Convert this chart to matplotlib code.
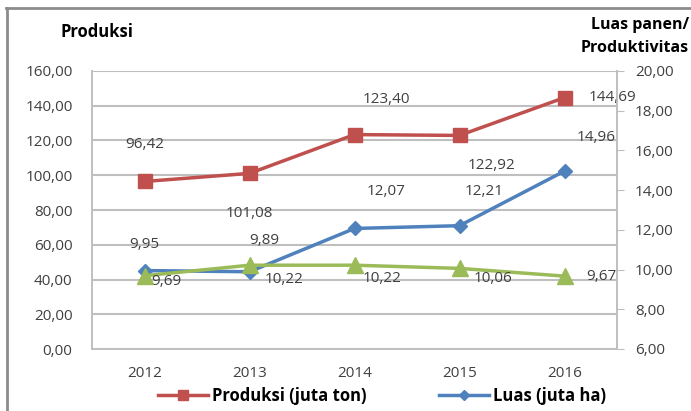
import matplotlib.pyplot as plt
from matplotlib.lines import Line2D

plt.rcParams['font.family'] = ['Open Sans', 'DejaVu Sans']

years = ['2012', '2013', '2014', '2015', '2016']
produksi = [96.42, 101.08, 123.40, 122.92, 144.69]
luas = [9.95, 9.89, 12.07, 12.21, 14.96]
produktivitas = [9.69, 10.22, 10.22, 10.06, 9.67]

# label offsets in pixels (dx, dy)
off_prod = [(0, 37), (0, -40), (32, 35), (32, -30), (48, 0)]
off_luas = [(0, 26), (15, 31), (32, 37), (25, 34), (32, 34)]
off_pv = [(22, -6), (35, -14), (28, -13), (34, -10), (37, 0)]

red = '#C0504D'
blue = '#4F81BD'
green = '#9BBB59'
grid = '#BFBFBF'
txt = '#404040'


def fmt(v):
    return f'{v:.2f}'.replace('.', ',')


fig = plt.figure(figsize=(6.91, 4.11), dpi=100)
# outer chart frame (top and left edges visible)
fig.add_artist(Line2D([6 / 691, 1.0], [1 - 8 / 411, 1 - 8 / 411],
                      transform=fig.transFigure, color='#8C8C8C', lw=2))
fig.add_artist(Line2D([7 / 691, 7 / 691], [0, 1 - 8 / 411],
                      transform=fig.transFigure, color='#8C8C8C', lw=2))

ax = fig.add_axes([92 / 691, 1 - 349 / 411, 525 / 691, 278 / 411])
ax2 = ax.twinx()

x = list(range(len(years)))
ax.plot(x, produksi, color=red, lw=2.5, marker='s', ms=10, zorder=3,
        label='Produksi (juta ton)')
l2, = ax2.plot(x, luas, color=blue, lw=2.5, marker='D', ms=7, zorder=3,
               label='Luas (juta ha)')
ax2.plot(x, produktivitas, color=green, lw=2.5, marker='^', ms=11, zorder=3)

ax.set_xlim(-0.5, 4.5)
ax.set_ylim(0, 160)
ax.set_yticks(range(0, 161, 20))
ax.set_yticklabels([fmt(v) for v in range(0, 161, 20)])
ax2.set_ylim(6, 20)
ax2.set_yticks(range(6, 21, 2))
ax2.set_yticklabels([fmt(v) for v in range(6, 21, 2)])
ax.set_xticks(x)
ax.set_xticklabels(years)

ax.grid(axis='y', color=grid, lw=1.5)
ax.set_axisbelow(True)
for a in (ax, ax2):
    for s in a.spines.values():
        s.set_color(grid)
        s.set_linewidth(1.2)
    a.spines['top'].set_visible(False)
ax.tick_params(axis='y', length=0, pad=14, labelsize=11, labelcolor=txt)
ax.tick_params(axis='x', length=0, pad=12, labelsize=11, labelcolor=txt)
ax2.tick_params(axis='y', length=5, color=grid, pad=8, labelsize=11, labelcolor=txt)

for i in x:
    ax.annotate(fmt(produksi[i]), (i, produksi[i]), xytext=off_prod[i],
                textcoords='offset pixels', ha='center', va='center',
                fontsize=11, color=txt)
    ax2.annotate(fmt(luas[i]), (i, luas[i]), xytext=off_luas[i],
                 textcoords='offset pixels', ha='center', va='center',
                 fontsize=11, color=txt)
    ax2.annotate(fmt(produktivitas[i]), (i, produktivitas[i]), xytext=off_pv[i],
                 textcoords='offset pixels', ha='center', va='center',
                 fontsize=11, color=txt)

fig.text(60 / 691, 1 - 32 / 411, 'Produksi', fontsize=12, fontweight='bold',
         ha='left', va='center')
fig.text(0.997, 1 - 25 / 411, 'Luas panen/', fontsize=11.5, fontweight='bold',
         ha='right', va='center')
fig.text(0.997, 1 - 48 / 411, 'Produktivitas', fontsize=11.5, fontweight='bold',
         ha='right', va='center')

h1, lb1 = ax.get_legend_handles_labels()
fig.legend(h1 + [l2], lb1 + ['Luas (juta ha)'], loc='center',
           bbox_to_anchor=(382 / 691, 1 - 396 / 411), ncol=2, frameon=False,
           prop={'weight': 'bold', 'size': 12}, handlelength=3.0,
           handletextpad=0.2, columnspacing=4.4, markerscale=0.7)

fig.savefig('out.png', dpi=100)
